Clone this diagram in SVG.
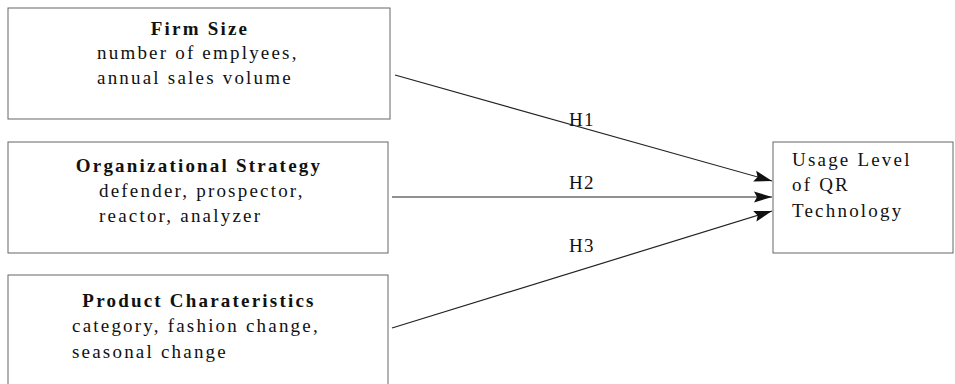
<svg xmlns="http://www.w3.org/2000/svg" width="955" height="384" viewBox="0 0 955 384">
<style>
.box{fill:none;stroke:#666;stroke-width:1}
.t{font-family:"Liberation Serif","Times New Roman",serif;font-size:19px;letter-spacing:2.2px;fill:#111}
.b{font-weight:bold}
.c{stroke:#222;stroke-width:1.2;fill:none}
.lab{font-family:"Liberation Serif","Times New Roman",serif;font-size:19px;letter-spacing:1.5px;fill:#111;text-anchor:middle}
</style>
<defs>
<marker id="ah" viewBox="0 0 18 12" refX="18" refY="6" markerWidth="18" markerHeight="12" markerUnits="userSpaceOnUse" orient="auto">
<path d="M0,0.5 L18,6 L0,11.5 L3,6 Z" fill="#111"/>
</marker>
</defs>
<rect width="955" height="384" fill="#fff"/>
<g id="firm-size">
<rect class="box" x="8" y="8" width="382" height="111"/>
<text class="t b" x="200" y="35" text-anchor="middle">Firm Size</text>
<text class="t" x="97" y="59">number of emplyees,</text>
<text class="t" x="97" y="84">annual sales volume</text>
</g>
<g id="org-strategy">
<rect class="box" x="8" y="142" width="380" height="111"/>
<text class="t b" x="199" y="172" text-anchor="middle">Organizational Strategy</text>
<text class="t" x="99" y="197">defender, prospector,</text>
<text class="t" x="99" y="222">reactor, analyzer</text>
</g>
<g id="product">
<rect class="box" x="8" y="275" width="380" height="120"/>
<text class="t b" x="199" y="307" text-anchor="middle">Product Charateristics</text>
<text class="t" x="72" y="332">category, fashion change,</text>
<text class="t" x="72" y="358">seasonal change</text>
</g>
<g id="usage">
<rect class="box" x="773" y="142" width="180" height="111"/>
<text class="t" x="792" y="166">Usage Level</text>
<text class="t" x="792" y="191">of QR</text>
<text class="t" x="792" y="217">Technology</text>
</g>
<g id="connectors">
<line class="c" x1="395" y1="75" x2="772" y2="181" marker-end="url(#ah)"/>
<line class="c" x1="392" y1="197" x2="772" y2="197" marker-end="url(#ah)"/>
<line class="c" x1="392" y1="328" x2="772" y2="211" marker-end="url(#ah)"/>
<text class="lab" x="582" y="126">H1</text>
<text class="lab" x="582" y="189">H2</text>
<text class="lab" x="582" y="252">H3</text>
</g>
</svg>
